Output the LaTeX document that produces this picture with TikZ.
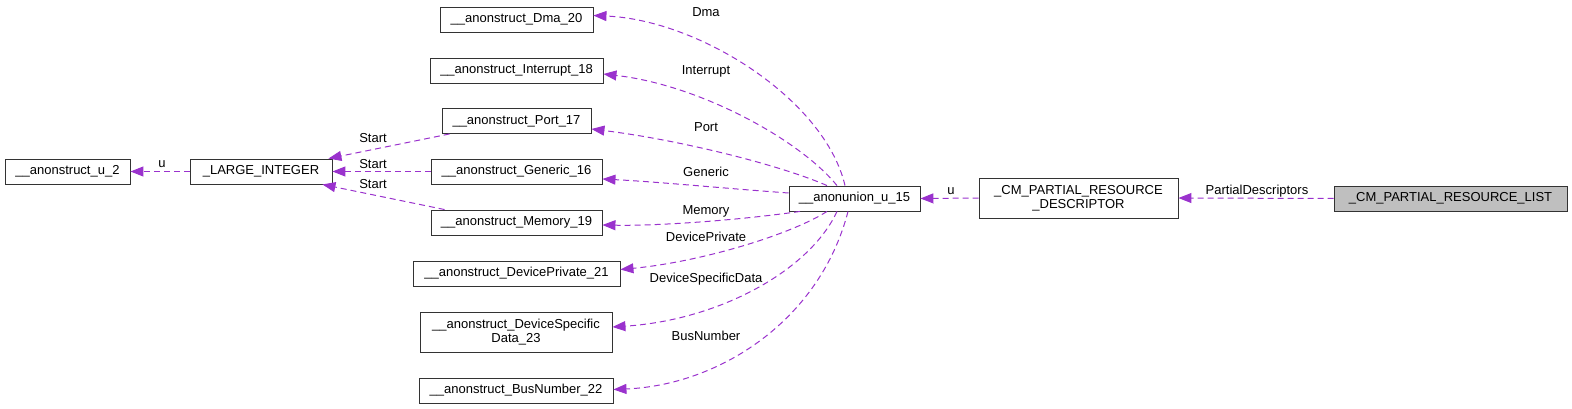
\documentclass[tikz,border=0pt]{standalone}
\usepackage{fontspec}
\setmainfont{Liberation Sans}
\usetikzlibrary{arrows.meta}
\definecolor{edgec}{HTML}{9A32CD}
\definecolor{fillgray}{HTML}{BFBFBF}
\tikzset{
  box/.style={draw=black!80, line width=0.9pt, rectangle, inner sep=0pt, minimum height=25pt, font=\fontsize{13pt}{14pt}\selectfont, align=center},
  edge/.style={draw=edgec, line width=1pt, dash pattern=on 6pt off 4pt, -{Triangle[length=13pt,width=10pt,fill=edgec]}},
  lbl/.style={font=\fontsize{13pt}{14pt}\selectfont, inner sep=0pt}
}
\begin{document}
\begin{tikzpicture}[x=1pt,y=-1pt]
\useasboundingbox (0,0) rectangle (1572,409);
% nodes
\node[box, minimum width=125pt] (u2) at (67.5,171.5) {\_\_anonstruct\_u\_2};
\node[box, minimum width=142pt] (LI) at (261,171.5) {\_LARGE\_INTEGER};
\node[box, minimum width=153pt] (dma) at (516.5,19.5) {\_\_anonstruct\_Dma\_20};
\node[box, minimum width=173pt] (intr) at (516.5,70.5) {\_\_anonstruct\_Interrupt\_18};
\node[box, minimum width=149pt] (port) at (516.5,121) {\_\_anonstruct\_Port\_17};
\node[box, minimum width=171pt] (gen) at (516.5,171.5) {\_\_anonstruct\_Generic\_16};
\node[box, minimum width=171pt] (mem) at (516.5,222.5) {\_\_anonstruct\_Memory\_19};
\node[box, minimum width=207pt] (dp) at (516.5,273.5) {\_\_anonstruct\_DevicePrivate\_21};
\node[box, minimum width=192pt, minimum height=40pt] (dsd) at (516,332) {\_\_anonstruct\_DeviceSpecific\\Data\_23};
\node[box, minimum width=194pt] (bus) at (516,390.5) {\_\_anonstruct\_BusNumber\_22};
\node[box, minimum width=131pt] (un) at (854.5,198.5) {\_\_anonunion\_u\_15};
\node[box, minimum width=199pt, minimum height=40pt] (desc) at (1078.5,198) {\_CM\_PARTIAL\_RESOURCE\\\_DESCRIPTOR};
\node[box, minimum width=233pt, fill=fillgray] (list) at (1450.5,198.5) {\_CM\_PARTIAL\_RESOURCE\_LIST};
% edges
\draw[edge] (list.west) -- (desc.east);
\draw[edge] (desc.west) -- (un.east);
\draw[edge] (LI.west) -- (u2.east);
\draw[edge] ([xshift=8pt]port.south west) -- ([xshift=-4pt]LI.north east);
\draw[edge] (gen.west) -- (LI.east);
\draw[edge] ([xshift=14pt]mem.north west) -- ([xshift=-10pt]LI.south east);
\draw[edge] ([xshift=-9.5pt]un.north) .. controls (825,100) and (700,20) .. ([yshift=4pt]dma.east);
\draw[edge] ([xshift=-17.5pt]un.north) .. controls (800,140) and (700,85) .. ([yshift=-3.5pt]intr.east);
\draw[edge] ([xshift=-27.5pt]un.north) .. controls (780,165) and (680,140) .. ([yshift=-8pt]port.east);
\draw[edge] ([yshift=5.5pt]un.west) .. controls (720,188) and (660,182) .. ([yshift=-7.5pt]gen.east);
\draw[edge] ([xshift=-54.5pt]un.south) .. controls (740,220) and (660,226) .. ([yshift=-2.5pt]mem.east);
\draw[edge] ([xshift=-27.5pt]un.south) .. controls (790,235) and (700,262) .. ([yshift=4pt]dp.east);
\draw[edge] ([xshift=-17.5pt]un.south) .. controls (810,270) and (720,320) .. ([yshift=5pt]dsd.east);
\draw[edge] ([xshift=-6.5pt]un.south) .. controls (820,320) and (720,385) .. ([yshift=1pt]bus.east);
% labels
\node[lbl] (lPD) at (1257,191) {PartialDescriptors};
\node[lbl] (lu1) at (951,191) {u};
\node[lbl] (lu2) at (162,164) {u};
\node[lbl] (ls1) at (373,138) {Start};
\node[lbl] (ls2) at (373,164) {Start};
\node[lbl] (ls3) at (373,184) {Start};
\node[lbl] (ldma) at (706,12) {Dma};
\node[lbl] (lint) at (706,71) {Interrupt};
\node[lbl] (lport) at (706,127) {Port};
\node[lbl] (lgen) at (706,172) {Generic};
\node[lbl] (lmem) at (706,211) {Memory};
\node[lbl] (ldp) at (706,237) {DevicePrivate};
\node[lbl] (ldsd) at (706,279) {DeviceSpecificData};
\node[lbl] (lbus) at (706,336) {BusNumber};
\end{tikzpicture}
\end{document}
